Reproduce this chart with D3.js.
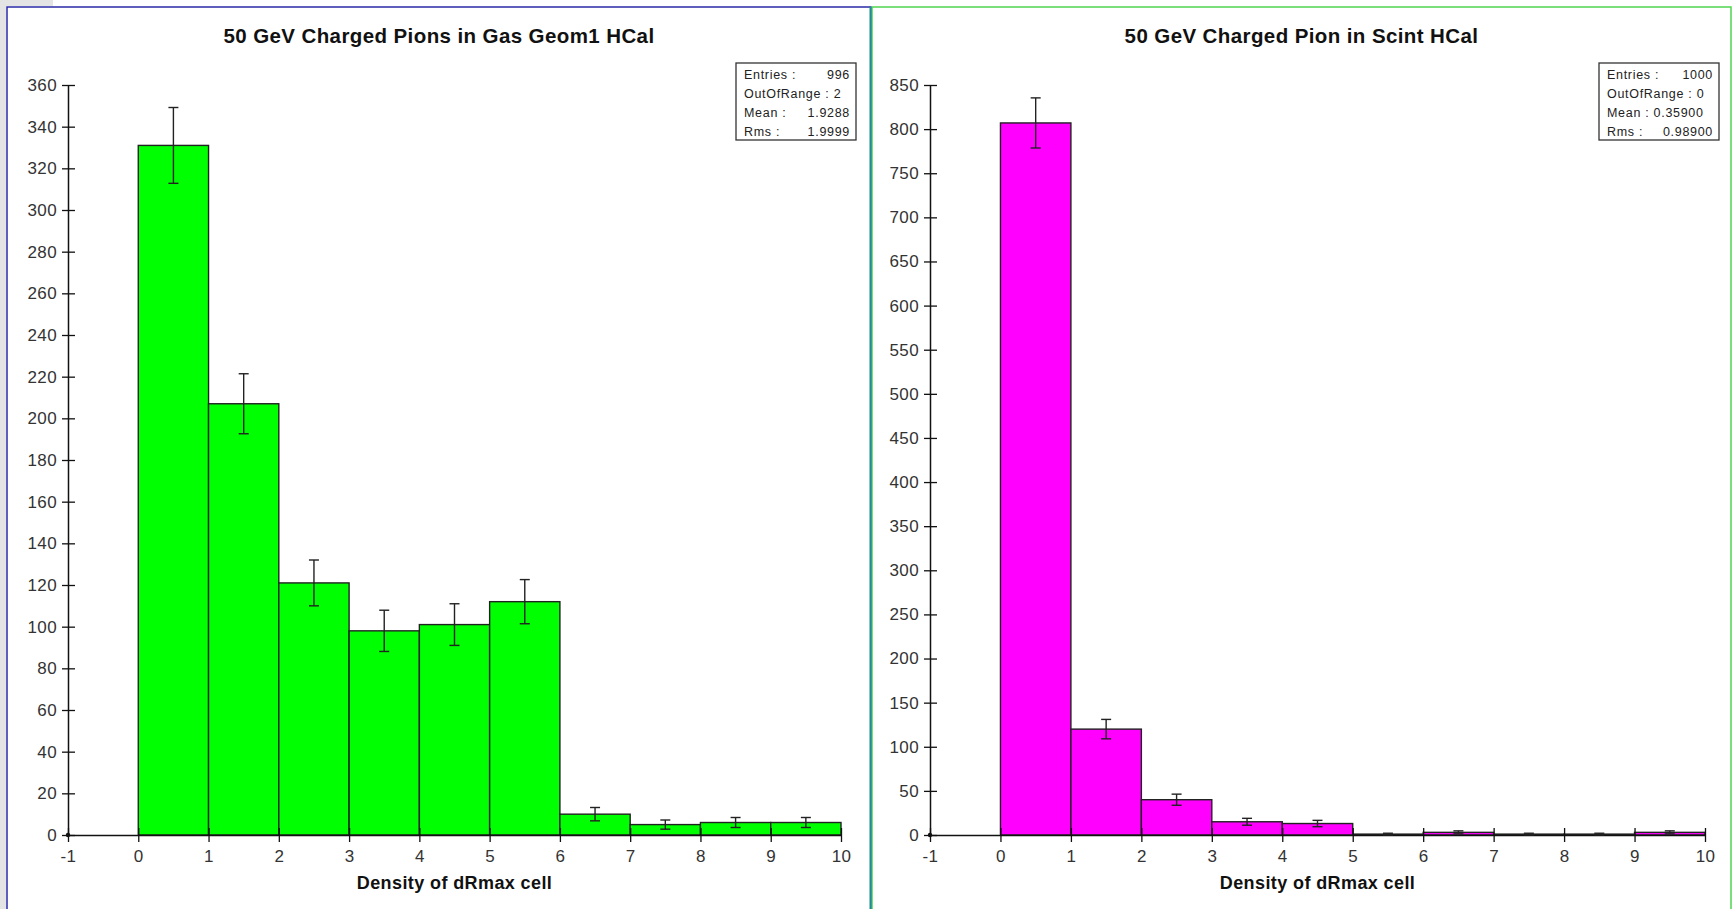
<!DOCTYPE html>
<html>
<head>
<meta charset="utf-8">
<script src="https://cdn.jsdelivr.net/npm/d3@7"></script>
<style>
  body { margin: 0; background: #fff; }
  svg { display: block; font-family: "Liberation Sans", Arial, sans-serif; }
</style>
</head>
<body>
<svg width="1736" height="909"></svg>
<script>
// bin lower edges (bin width 1)
const binStarts = [0, 1, 2, 3, 4, 5, 6, 7, 8, 9];
const xTickLabels = [-1, 0, 1, 2, 3, 4, 5, 6, 7, 8, 9, 10];

const gasCounts = [331, 207, 121, 98, 101, 112, 10, 5, 6, 6];
const gasErrors = [18.2, 14.4, 11, 9.9, 10, 10.6, 3.2, 2.2, 2.4, 2.4];
const gasYTicks = [0, 20, 40, 60, 80, 100, 120, 140, 160, 180, 200, 220, 240, 260, 280, 300, 320, 340, 360];
const gasStats = [["Entries :", "996"], ["OutOfRange : 2", ""], ["Mean :", "1.9288"], ["Rms :", "1.9999"]];

const scintCounts = [807, 120, 40, 15, 13, 1, 3, 1, 1, 3];
const scintErrors = [28.4, 11, 6.3, 3.9, 3.6, 1, 1.7, 1, 1, 1.7];
const scintYTicks = [0, 50, 100, 150, 200, 250, 300, 350, 400, 450, 500, 550, 600, 650, 700, 750, 800, 850];
const scintStats = [["Entries :", "1000"], ["OutOfRange : 0", ""], ["Mean : 0.35900", ""], ["Rms :", "0.98900"]];

const svg = d3.select("svg");

// window background bits
svg.append("rect").attr("x", 0).attr("y", 0).attr("width", 6).attr("height", 909).attr("fill", "#e4e4e4");
svg.append("rect").attr("x", 0).attr("y", 0).attr("width", 53).attr("height", 6).attr("fill", "#e4e4e4");

function drawPanel(opt) {
  const g = svg.append("g");

  g.append("rect")
    .attr("x", opt.px).attr("y", 7)
    .attr("width", opt.pw).attr("height", 920)
    .attr("fill", "#fff")
    .attr("stroke", opt.border).attr("stroke-width", 1.5);

  g.append("text")
    .attr("x", opt.px + opt.pw / 2).attr("y", 43)
    .attr("text-anchor", "middle")
    .attr("font-size", 20.5).attr("font-weight", "bold").attr("letter-spacing", 0.4)
    .attr("fill", "#111")
    .text(opt.title);

  const x = d3.scaleLinear().domain([-1, 10]).range([opt.x0, opt.x1]);
  const y = d3.scaleLinear().domain([0, opt.yMax]).range([835, 85]);

  // bars
  g.selectAll("rect.bar")
    .data(binStarts)
    .enter()
    .append("rect")
    .attr("class", "bar")
    .attr("x", d => x(d))
    .attr("width", d => x(d + 1) - x(d))
    .attr("y", (d, i) => y(opt.counts[i]))
    .attr("height", (d, i) => y(0) - y(opt.counts[i]))
    .attr("fill", opt.fill)
    .attr("stroke", "#222").attr("stroke-width", 1.4);

  // axes
  const yAxis = d3.axisLeft(y).tickValues(opt.yTicks).tickSizeOuter(0).tickSizeInner(6).tickPadding(5);
  const yG = g.append("g").attr("transform", `translate(${opt.x0},0)`).call(yAxis);
  const xAxis = d3.axisBottom(x).tickValues(xTickLabels).tickFormat(d => String(d))
    .tickSizeOuter(0).tickSizeInner(7).tickPadding(8);
  const xG = g.append("g").attr("transform", `translate(0,${y(0)})`).call(xAxis);

  yG.selectAll(".tick line").attr("x1", 7).attr("x2", -6);
  xG.selectAll(".tick line").attr("y1", -7).attr("y2", 7);
  [yG, xG].forEach(a => {
    a.select(".domain").attr("stroke", "#111").attr("stroke-width", 1.5);
    a.selectAll(".tick line").attr("stroke", "#111").attr("stroke-width", 1.3);
    a.selectAll(".tick text").attr("font-size", 17).attr("letter-spacing", 0.4).attr("fill", "#333")
      .attr("font-family", "'Liberation Sans', Arial, sans-serif");
  });

  g.append("circle").attr("cx", opt.x0).attr("cy", y(0)).attr("r", 2.2).attr("fill", "#111");

  // error bars
  const eb = g.selectAll("g.err").data(binStarts).enter().append("g").attr("class", "err")
    .attr("stroke", "#222").attr("stroke-width", 1.4);
  eb.append("line")
    .attr("x1", d => x(d + 0.5)).attr("x2", d => x(d + 0.5))
    .attr("y1", (d, i) => y(opt.counts[i] + opt.errors[i]))
    .attr("y2", (d, i) => y(Math.max(0, opt.counts[i] - opt.errors[i])));
  eb.append("line")
    .attr("x1", d => x(d + 0.5) - 5).attr("x2", d => x(d + 0.5) + 5)
    .attr("y1", (d, i) => y(opt.counts[i] + opt.errors[i]))
    .attr("y2", (d, i) => y(opt.counts[i] + opt.errors[i]));
  eb.append("line")
    .attr("x1", d => x(d + 0.5) - 5).attr("x2", d => x(d + 0.5) + 5)
    .attr("y1", (d, i) => y(Math.max(0, opt.counts[i] - opt.errors[i])))
    .attr("y2", (d, i) => y(Math.max(0, opt.counts[i] - opt.errors[i])));

  g.append("text")
    .attr("x", (opt.x0 + opt.x1) / 2).attr("y", 889)
    .attr("text-anchor", "middle")
    .attr("font-size", 18).attr("font-weight", "bold").attr("letter-spacing", 0.4).attr("fill", "#111")
    .text("Density of dRmax cell");

  // stats box
  const bx = opt.boxX, bw = opt.boxW;
  g.append("rect").attr("x", bx).attr("y", 63).attr("width", bw).attr("height", 77)
    .attr("fill", "#fff").attr("stroke", "#333").attr("stroke-width", 1.3);
  opt.stats.forEach((s, i) => {
    const yy = 79 + i * 19;
    g.append("text").attr("x", bx + 8).attr("y", yy)
      .attr("font-size", 12.5).attr("letter-spacing", 0.7).attr("fill", "#222").text(s[0]);
    if (s[1]) {
      g.append("text").attr("x", bx + bw - 6).attr("y", yy).attr("text-anchor", "end")
        .attr("font-size", 12.5).attr("letter-spacing", 0.7).attr("fill", "#222").text(s[1]);
    }
  });
}

drawPanel({
  px: 7, pw: 864, border: "#2a2aa8", title: "50 GeV Charged Pions in Gas Geom1 HCal",
  x0: 68, x1: 841, yMax: 360, counts: gasCounts, errors: gasErrors, yTicks: gasYTicks,
  fill: "#00ff00", stats: gasStats, boxX: 736, boxW: 120
});
drawPanel({
  px: 872, pw: 859, border: "#4fd44f", title: "50 GeV Charged Pion in Scint HCal",
  x0: 930, x1: 1705, yMax: 850, counts: scintCounts, errors: scintErrors, yTicks: scintYTicks,
  fill: "#ff00ff", stats: scintStats, boxX: 1599, boxW: 120
});

// divider between the two panels
svg.append("line").attr("x1", 870.5).attr("x2", 870.5).attr("y1", 7).attr("y2", 909)
  .attr("stroke", "#1e8c9c").attr("stroke-width", 2);
</script>
</body>
</html>
